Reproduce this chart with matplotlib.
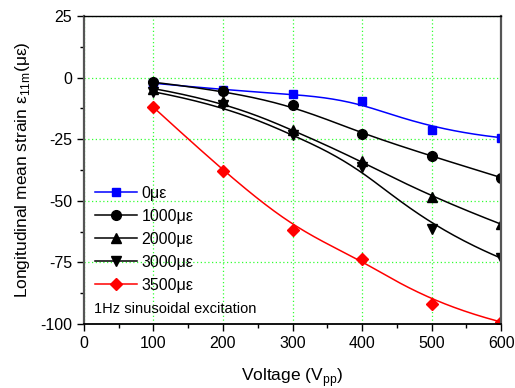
import numpy as np
import matplotlib
matplotlib.use('Agg')
import matplotlib.pyplot as plt

plt.rcParams['font.family'] = ['Liberation Sans', 'DejaVu Sans']
plt.rcParams['axes.unicode_minus'] = False

voltage = [100, 200, 300, 400, 500, 600]
strain_0 = [-2.3, -5.0, -6.7, -9.5, -21.3, -24.4]
strain_1000 = [-1.9, -5.3, -11.0, -23.0, -31.9, -40.6]
strain_2000 = [-4.5, -9.6, -21.2, -34.0, -48.6, -59.5]
strain_3000 = [-5.8, -11.2, -23.2, -36.2, -61.4, -73.3]
strain_3500 = [-12.1, -37.9, -61.8, -73.5, -91.8, -99.2]
labels = ['0\u03bc\u03b5', '1000\u03bc\u03b5', '2000\u03bc\u03b5', '3000\u03bc\u03b5', '3500\u03bc\u03b5']


def bspline(x, y, n=200):
    # clamped cubic B-spline using the points as control points (Origin style)
    P = np.column_stack([x, y]).astype(float)
    k = 3
    m = len(P)
    knots = np.concatenate([np.zeros(k), np.arange(m - k + 1), np.full(k, m - k)]).astype(float)
    ts = np.linspace(0, m - k, n)
    out = []
    for t in ts:
        i = np.searchsorted(knots, t, side='right') - 1
        i = min(i, m - 1)
        d = [P[j].copy() for j in range(i - k, i + 1)]
        for r in range(1, k + 1):
            for j in range(k, r - 1, -1):
                idx = j + i - k
                denom = knots[idx + k + 1 - r] - knots[idx]
                a = 0 if denom == 0 else (t - knots[idx]) / denom
                d[j] = (1 - a) * d[j - 1] + a * d[j]
        out.append(d[k])
    out = np.array(out)
    return out[:, 0], out[:, 1]


fig = plt.figure(figsize=(5.15, 3.88), dpi=100)
ax = fig.add_axes([0.163, 0.165, 0.81, 0.794])

series = [strain_0, strain_1000, strain_2000, strain_3000, strain_3500]
colors = ['#0000ff', 'black', 'black', 'black', '#ff0000']
markers = ['s', 'o', '^', 'v', 'D']
msizes = [6, 7, 7.5, 7.5, 6]

for ys, c, mk, ms, lab in zip(series, colors, markers, msizes, labels):
    sx, sy = bspline(voltage, ys)
    ax.plot(sx, sy, color=c, lw=1.1)
    ax.plot(voltage, ys, linestyle='none', marker=mk, color=c, ms=ms)
    ax.plot([], [], color=c, lw=1.1, marker=mk, ms=ms, label=lab)

ax.set_xlim(0, 600)
ax.set_ylim(-100, 25)
ax.set_xticks([0, 100, 200, 300, 400, 500, 600])
ax.set_xticks(np.arange(50, 600, 100), minor=True)
ax.set_yticks([-100, -75, -50, -25, 0, 25])
ax.set_yticks(np.arange(-87.5, 25, 25), minor=True)
ax.grid(True, which='major', color='#33ff33', linestyle=(0, (1, 2)), lw=0.9)
ax.set_axisbelow(True)

ax.tick_params(axis='both', which='major', direction='out', length=5, width=1, labelsize=11.5)
ax.tick_params(axis='both', which='minor', direction='out', length=3, width=1)
for s in ['left', 'right']:
    ax.spines[s].set_color('#555555')
    ax.spines[s].set_linewidth(1.6)
ax.spines['bottom'].set_linewidth(1.3)
ax.spines['top'].set_linewidth(1.0)

ax.set_xlabel('Voltage (V$_{\\mathregular{pp}}$)', fontsize=12.5, labelpad=11)
ax.set_ylabel('Longitudinal mean strain \u03b5$_{\\mathregular{11m}}$(\u03bc\u03b5)', fontsize=12.5, labelpad=6)

ax.legend(loc='upper left', bbox_to_anchor=(0.0, 0.484), frameon=False, fontsize=11.5,
          handlelength=2.6, handletextpad=0.3, labelspacing=0.5, borderaxespad=0.3)
ax.text(0.025, 0.05, '1Hz sinusoidal excitation', transform=ax.transAxes, fontsize=10.5,
        va='center', ha='left')

fig.savefig('out.png', dpi=100)
